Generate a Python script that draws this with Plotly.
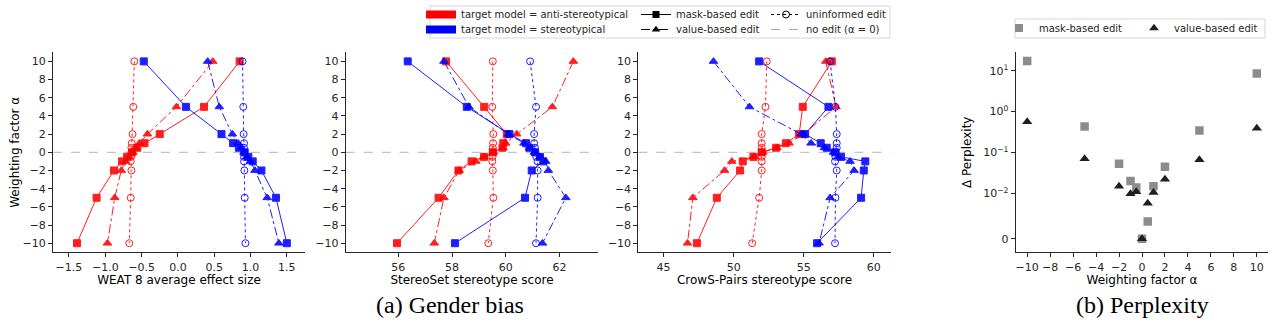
import numpy as np
import plotly.graph_objects as go

W, H = 1273, 327

# ---------------- data ----------------
alphas = [10, 5, 2, 1, 0.5, 0, -0.5, -1, -2, -5, -10]

weat_anti_mask = [0.85, 0.36, -0.25, -0.46, -0.56, -0.63, -0.70, -0.77, -0.88, -1.12, -1.39]
weat_anti_value = [0.48, -0.02, -0.42, -0.53, -0.58, -0.62, -0.67, -0.72, -0.78, -0.87, -0.97]
weat_anti_unif = [-0.60, -0.615, -0.625, -0.635, -0.64, -0.64, -0.645, -0.65, -0.64, -0.65, -0.67]
weat_stereo_mask = [-0.47, 0.11, 0.60, 0.76, 0.84, 0.92, 0.97, 1.03, 1.15, 1.35, 1.50]
weat_stereo_value = [0.41, 0.57, 0.75, 0.83, 0.875, 0.91, 0.95, 1.00, 1.06, 1.23, 1.39]
weat_stereo_unif = [0.89, 0.90, 0.905, 0.91, 0.91, 0.91, 0.91, 0.91, 0.915, 0.92, 0.93]

ss_anti_mask = [57.78, 59.2, 60.04, 59.91, 59.88, 59.52, 59.19, 58.73, 58.24, 57.5, 55.95]
ss_anti_value = [62.52, 61.74, 60.41, 60.0, 59.9, 59.54, 59.2, 58.89, 58.27, 57.70, 57.34]
ss_anti_unif = [59.52, 59.5, 59.54, 59.53, 59.52, 59.52, 59.51, 59.5, 59.52, 59.54, 59.35]
ss_stereo_mask = [56.35, 58.55, 60.14, 60.76, 60.88, 61.09, 61.28, 61.40, 60.97, 60.72, 58.11]
ss_stereo_value = [57.70, 58.63, 60.10, 60.68, 60.91, 61.07, 61.28, 61.49, 61.59, 62.24, 61.37]
ss_stereo_unif = [60.91, 61.13, 61.06, 61.06, 61.09, 61.11, 61.14, 61.19, 61.19, 61.19, 61.13]

crows_anti_mask = [57.0, 54.93, 54.67, 53.72, 53.03, 52.0, 51.41, 50.65, 50.46, 48.8, 47.38]
crows_anti_value = [56.57, 57.30, 54.98, 53.95, 53.08, 52.08, 51.46, 49.87, 49.35, 47.09, 46.71]
crows_anti_unif = [52.36, 52.27, 52.0, 52.0, 52.0, 52.0, 52.0, 52.0, 52.0, 51.82, 51.32]
crows_stereo_mask = [51.82, 56.76, 55.1, 56.21, 56.64, 57.23, 57.66, 59.39, 59.28, 59.09, 55.95]
crows_stereo_value = [48.56, 51.13, 54.81, 55.52, 56.47, 57.11, 57.47, 58.30, 58.59, 56.88, 56.09]
crows_stereo_unif = [56.88, 57.26, 57.35, 57.35, 57.35, 57.3, 57.26, 57.23, 57.35, 57.26, 57.23]

ppl_alpha = [-10, -5, -2, -1, -0.5, 0, 0.5, 1, 2, 5, 10]
ppl_mask = [17.3, 0.43, 0.053, 0.020, 0.014, 0.0, 0.0038, 0.015, 0.045, 0.345, 8.5]
ppl_value = [0.56, 0.070, 0.015, 0.0099, 0.011, 0.0, 0.0078, 0.0105, 0.022, 0.066, 0.39]

ppl_tick_values = [0, 0.01, 0.1, 1, 10]
ppl_tick_labels = ["0", "10<sup>−2</sup>", "10<sup>−1</sup>", "10<sup>0</sup>", "10<sup>1</sup>"]

weat_ticks = [-1.5, -1.0, -0.5, 0.0, 0.5, 1.0, 1.5]
weat_tick_labels = ["−1.5", "−1.0", "−0.5", "0.0", "0.5", "1.0", "1.5"]

# symlog scale (linthresh = 0.01, base 10, linscale 1), as matplotlib
LINTHRESH = 0.01
LINSCALE_ADJ = 1.0 / (1.0 - 0.1)


def symlog(v):
    v = np.asarray(v, dtype=float)
    a = np.abs(v)
    out = np.where(a <= LINTHRESH, a / LINTHRESH * LINSCALE_ADJ,
                   LINSCALE_ADJ + np.log10(np.maximum(a, LINTHRESH) / LINTHRESH))
    return np.sign(v) * out


RED = "#ff0000"
BLUE = "#0000ff"
FONT = "DejaVu Sans"
AXC = "#262626"

fig = go.Figure()

panels = [
    ("x", "y", [weat_anti_mask, weat_anti_value, weat_anti_unif],
     [weat_stereo_mask, weat_stereo_value, weat_stereo_unif]),
    ("x2", "y2", [ss_anti_mask, ss_anti_value, ss_anti_unif],
     [ss_stereo_mask, ss_stereo_value, ss_stereo_unif]),
    ("x3", "y3", [crows_anti_mask, crows_anti_value, crows_anti_unif],
     [crows_stereo_mask, crows_stereo_value, crows_stereo_unif]),
]

styles = [
    dict(dash="solid", symbol="square", size=7),
    dict(dash="dashdot", symbol="triangle-up", size=7.5),
    dict(dash="dot", symbol="circle-open", size=7),
]

for xa, ya, anti, stereo in panels:
    for color, series in ((RED, anti), (BLUE, stereo)):
        for st, vals in zip(styles, series):
            fig.add_trace(go.Scatter(
                x=vals, y=alphas, xaxis=xa, yaxis=ya, mode="lines+markers",
                line=dict(color=color, width=1, dash=st["dash"]),
                marker=dict(symbol=st["symbol"], size=st["size"], color=color,
                            line=dict(width=1, color=color)),
                opacity=0.88, showlegend=False, hoverinfo="skip"))

# perplexity
fig.add_trace(go.Scatter(x=ppl_alpha, y=symlog(ppl_mask), xaxis="x4", yaxis="y4",
                         mode="markers", marker=dict(symbol="square", size=8.5, color="#8c8c8c"),
                         showlegend=False, hoverinfo="skip"))
fig.add_trace(go.Scatter(x=ppl_alpha, y=symlog(ppl_value), xaxis="x4", yaxis="y4",
                         mode="markers", marker=dict(symbol="triangle-up", size=9, color="#1e1e1e"),
                         showlegend=False, hoverinfo="skip"))

# ---------------- legend-only traces (one legend per entry for exact placement) ----------------
def leg(name, legend, **kw):
    fig.add_trace(go.Scatter(x=[None], y=[None], name=name, legend=legend, showlegend=True, **kw))

leg("target model = anti-stereotypical", "legend", mode="lines", line=dict(color=RED, width=8))
leg("target model = stereotypical", "legend2", mode="lines", line=dict(color=BLUE, width=8))
leg("mask-based edit", "legend3", mode="lines+markers", line=dict(color="black", width=1),
    marker=dict(symbol="square", size=7, color="black"))
leg("value-based edit", "legend4", mode="lines+markers", line=dict(color="black", width=1, dash="dashdot"),
    marker=dict(symbol="triangle-up", size=7.5, color="black"))
leg("uninformed edit", "legend5", mode="lines+markers", line=dict(color="black", width=1, dash="dot"),
    marker=dict(symbol="circle-open", size=7, color="black"))
leg("no edit (α = 0)", "legend6", mode="lines", line=dict(color="#aaaaaa", width=1, dash="dash"))
leg("mask-based edit", "legend7", mode="markers", marker=dict(symbol="square", size=8, color="#8c8c8c"))
leg("value-based edit", "legend8", mode="markers", marker=dict(symbol="triangle-up", size=8.5, color="#1e1e1e"))

# ---------------- layout ----------------
def dom(a, b):
    return [a / W, b / W]

ydom = [1 - 252.3 / H, 1 - 52.3 / H]

base = dict(showline=True, linecolor=AXC, linewidth=1, ticks="outside", ticklen=4,
            tickwidth=1, tickcolor=AXC, showgrid=False, zeroline=False, mirror=False,
            automargin=False, tickfont=dict(family=FONT, size=11, color=AXC))

alpha_ticks = dict(tickmode="array", tickvals=[10, 8, 6, 4, 2, 0, -2, -4, -6, -8, -10],
                   ticktext=["10", "8", "6", "4", "2", "0", "−2", "−4", "−6", "−8", "−10"])

tfont = dict(family=FONT, size=12, color="black")

layout = dict(
    width=W, height=H, margin=dict(l=0, r=0, t=0, b=0),
    paper_bgcolor="white", plot_bgcolor="white",
    xaxis=dict(base, domain=dom(53, 305), anchor="y", range=[-1.72, 1.75],
               tickmode="array", tickvals=weat_ticks, ticktext=weat_tick_labels,
               title=dict(text="WEAT 8 average effect size", font=tfont, standoff=3)),
    yaxis=dict(base, domain=ydom, anchor="x", range=[-11, 11], **alpha_ticks,
               title=dict(text="Weighting factor α", font=tfont, standoff=0)),
    xaxis2=dict(base, domain=dom(345.7, 598.3), anchor="y2", range=[54.04, 63.45],
                tickmode="array", tickvals=[56, 58, 60, 62],
                title=dict(text="StereoSet stereotype score", font=tfont, standoff=3)),
    yaxis2=dict(base, domain=ydom, anchor="x2", range=[-11, 11], **alpha_ticks),
    xaxis3=dict(base, domain=dom(638.3, 890.7), anchor="y3", range=[43.2, 61.2],
                tickmode="array", tickvals=[45, 50, 55, 60],
                title=dict(text="CrowS-Pairs stereotype score", font=tfont, standoff=3)),
    yaxis3=dict(base, domain=ydom, anchor="x3", range=[-11, 11], **alpha_ticks),
    xaxis4=dict(base, domain=dom(1015.7, 1268.3), anchor="y4", range=[-11, 11],
                tickmode="array", tickvals=[-10, -8, -6, -4, -2, 0, 2, 4, 6, 8, 10],
                ticktext=["−10", "−8", "−6", "−4", "−2", "0", "2", "4", "6", "8", "10"],
                title=dict(text="Weighting factor α", font=tfont, standoff=3)),
    yaxis4=dict(base, domain=ydom, anchor="x4", range=[-0.33, 4.56],
                tickmode="array", tickvals=list(symlog(ppl_tick_values)), ticktext=ppl_tick_labels,
                title=dict(text="Δ Perplexity", font=tfont, standoff=8)),
)

lfont = dict(family=FONT, size=10, color="#262626")
common_leg = dict(xanchor="left", yanchor="top", bgcolor="rgba(0,0,0,0)", borderwidth=0,
                  font=lfont, tracegroupgap=0, itemclick=False, itemdoubleclick=False)
# (left px, top px) of each one-entry legend
legend_pos = {
    "legend": (421, 0), "legend2": (421, 15),
    "legend3": (636, 0), "legend4": (636, 15),
    "legend5": (766, 0), "legend6": (766, 15),
    "legend7": (999, 13.5), "legend8": (1134, 13.5),
}
for key, (lx, ty) in legend_pos.items():
    layout[key] = dict(common_leg, x=lx / W, y=1 - ty / H)

shapes = []
for xr in ("x", "x2", "x3"):
    yr = "y" if xr == "x" else "y" + xr[1:]
    shapes.append(dict(type="line", xref=xr + " domain", yref=yr, x0=0, x1=1, y0=0, y1=0,
                       line=dict(color="#b3b3b3", width=1, dash="dash"), layer="below"))
# legend frames
shapes.append(dict(type="rect", xref="paper", yref="paper", x0=430 / W, x1=890 / W,
                   y0=1 - 38 / H, y1=1 - 6 / H, line=dict(color="#d6d6d6", width=1),
                   fillcolor="white", layer="below"))
shapes.append(dict(type="rect", xref="paper", yref="paper", x0=1015 / W, x1=1265 / W,
                   y0=1 - 38 / H, y1=1 - 19 / H, line=dict(color="#d6d6d6", width=1),
                   fillcolor="white", layer="below"))
layout["shapes"] = shapes

cap_font = dict(family="Liberation Serif", size=24, color="black")
layout["annotations"] = [
    dict(text="(a) Gender bias", x=450 / W, y=1 - 305 / H, xref="paper", yref="paper",
         showarrow=False, font=cap_font, xanchor="center", yanchor="middle"),
    dict(text="(b) Perplexity", x=1142 / W, y=1 - 305 / H, xref="paper", yref="paper",
         showarrow=False, font=cap_font, xanchor="center", yanchor="middle"),
]

fig.update_layout(layout)
fig.write_html("out.html")
